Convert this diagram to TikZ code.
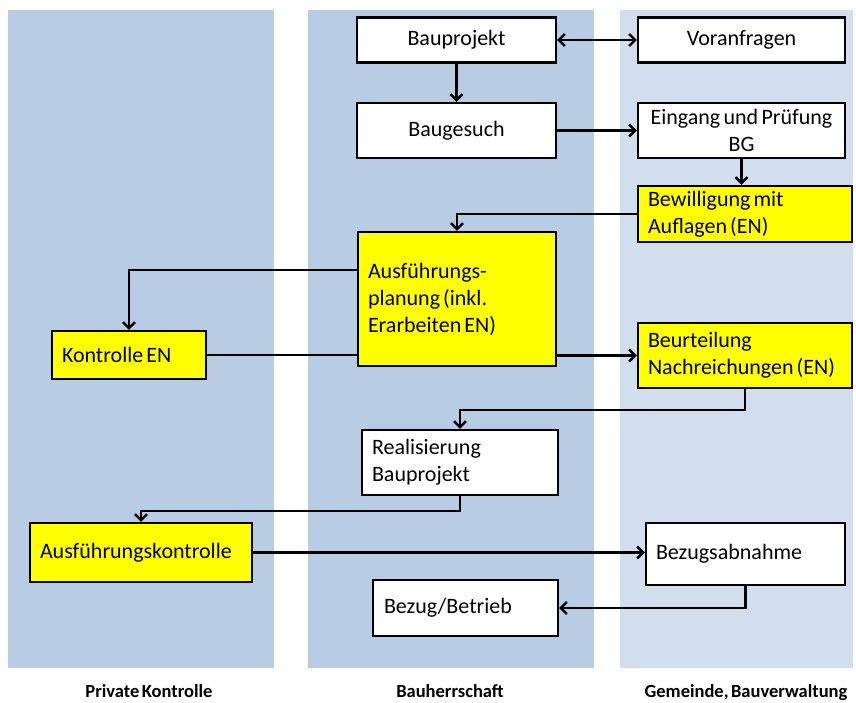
\documentclass[tikz,border=0pt]{standalone}
\usepackage{fontspec}
\setmainfont{Carlito}[WordSpace={0.6,0.3,0.3}]
\usepackage{xcolor}
\usepackage{tikz}
\usetikzlibrary{arrows.meta, positioning, calc}

\definecolor{laneblue}{RGB}{184,204,228}
\definecolor{lanelight}{RGB}{209,222,238}
\definecolor{boxyellow}{RGB}{255,255,0}

\newcommand\tightsp{\spaceskip=0.14em plus 0.05em\relax\xspaceskip=0.14em\relax}

\begin{document}
\begin{tikzpicture}[x=1pt, y=-1pt,
    box/.style={draw, line width=2.4pt, fill=white, inner xsep=10pt, inner ysep=0pt,
        font=\fontsize{22}{27}\selectfont, align=left, execute at begin node=\tightsp},
    hot/.style={box, fill=boxyellow},
    flow/.style={line width=2.4pt, -{Straight Barb[length=6pt, width=12pt]}},
    lanelabel/.style={anchor=base, font=\bfseries\fontsize{18.5}{20}\selectfont}]

    \useasboundingbox (0,0) rectangle (856,702);

    % Lanes
    \fill[laneblue] (8,10) rectangle (274,668);
    \fill[laneblue] (308,10) rectangle (594,668);
    \fill[lanelight] (620,10) rectangle (853,668);
    \node[lanelabel] (lprivat) at (149,697) {Private Kontrolle};
    \node[lanelabel] (lbauherr) at (450,697) {Bauherrschaft};
    \node[lanelabel] (lgemeinde) at (746,697) {Gemeinde, Bauverwaltung};

    % Boxes
    \node[box, align=center, text width=179pt, minimum height=45pt] (bauprojekt) at (456.5,40) {Bauprojekt};
    \node[box, align=center, text width=187pt, minimum height=45pt] (voranfragen) at (741.5,40) {Voranfragen};
    \node[box, align=center, text width=179pt, minimum height=55pt] (baugesuch) at (456.5,130.5) {Baugesuch};
    \node[box, align=center, text width=199pt, inner xsep=4pt, minimum height=55pt] (eingang) at (741.5,130.5) {Eingang und Prüfung\\BG};
    \node[hot, text width=194pt, minimum height=56pt] (bewilligung) at (745,214) {Bewilligung mit\\Auflagen (EN)};
    \node[hot, text width=178pt, minimum height=134pt] (planung) at (457,299) {Ausführungs-\\planung (inkl.\\Erarbeiten EN)};
    \node[hot, text width=134pt, minimum height=48pt] (kontrolle) at (129,355) {Kontrolle EN};
    \node[hot, text width=194pt, minimum height=65pt] (beurteilung) at (745,355.5) {Beurteilung\\Nachreichungen (EN)};
    \node[box, text width=176pt, minimum height=65pt] (realisierung) at (460,462.5) {Realisierung\\Bauprojekt};
    \node[hot, text width=202pt, minimum height=59pt] (ausfkontrolle) at (141,552.5) {Ausführungskontrolle};
    \node[box, text width=179pt, minimum height=62pt] (abnahme) at (745.5,554) {Bezugsabnahme};
    \node[box, text width=163pt, minimum height=56pt, inner xsep=11pt] (betrieb) at (465.5,608) {Bezug/Betrieb};

    % Connectors
    \draw[flow, {Straight Barb[length=6pt, width=12pt]}-{Straight Barb[length=6pt, width=12pt]}] (bauprojekt) -- (voranfragen);
    \draw[flow] (bauprojekt) -- (baugesuch);
    \draw[flow] (baugesuch) -- (eingang);
    \draw[flow] (eingang.south) -- (eingang.south |- bewilligung.north);
    \draw[flow] (bewilligung.west) -| (planung.north);
    \draw[flow] ([yshift=29pt]planung.west) -| (kontrolle.north);
    \draw[line width=2.4pt] (kontrolle.east) -- (kontrolle.east -| planung.west);
    \draw[flow] (beurteilung.west -| planung.east) -- (beurteilung.west);
    \draw[flow] (beurteilung.south) -- ++(0,21) -| (realisierung.north);
    \draw[flow] (realisierung.south) -- ++(0,15) -| (ausfkontrolle.north);
    \draw[flow] (ausfkontrolle.east) -- (ausfkontrolle.east -| abnahme.west);
    \draw[flow] (abnahme.south) |- (betrieb.east);

\end{tikzpicture}
\end{document}
